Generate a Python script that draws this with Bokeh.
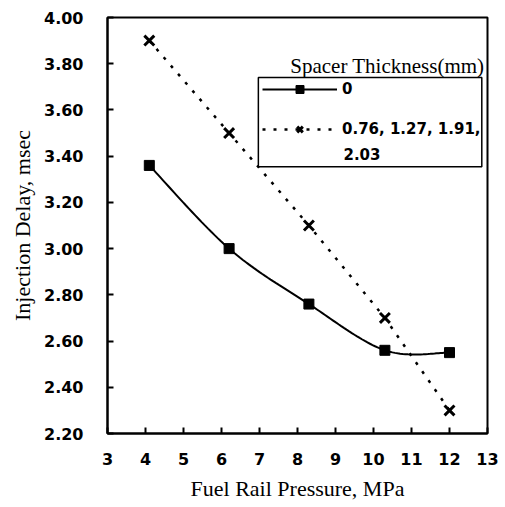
import numpy as np
from bokeh.plotting import figure
from bokeh.models import (Range1d, FixedTicker, PrintfTickFormatter, Legend,
                          LegendItem, Label)
from bokeh.embed import file_html
from bokeh.resources import INLINE

# Fuel rail pressure (MPa) and injection delay (msec)
pressure = [4.1, 6.2, 8.3, 10.3, 12.0]
delay_no_spacer = [3.36, 3.00, 2.76, 2.56, 2.55]
delay_spacer = [3.90, 3.50, 3.10, 2.70, 2.30]

x_ticks = [3, 4, 5, 6, 7, 8, 9, 10, 11, 12, 13]
y_ticks = [2.2, 2.4, 2.6, 2.8, 3.0, 3.2, 3.4, 3.6, 3.8, 4.0]

legend_title = "Spacer Thickness(mm)"
label_no_spacer = "0"
label_spacer_line1 = "0.76, 1.27, 1.91,"
label_spacer_line2 = "2.03"


def smooth_curve(xs, ys, steps=30):
    """Catmull-Rom style smoothing through the given points (spreadsheet smoothed line)."""
    pts = np.column_stack([xs, ys]).astype(float)
    ext = np.vstack([pts[0], pts, pts[-1]])
    out = []
    for i in range(len(pts) - 1):
        p0, p1, p2, p3 = ext[i], ext[i + 1], ext[i + 2], ext[i + 3]
        c1 = p1 + (p2 - p0) / 6.0
        c2 = p2 - (p3 - p1) / 6.0
        t = np.linspace(0, 1, steps)[:, None]
        seg = ((1 - t) ** 3) * p1 + 3 * ((1 - t) ** 2) * t * c1 + 3 * (1 - t) * t ** 2 * c2 + t ** 3 * p2
        out.append(seg if i == 0 else seg[1:])
    curve = np.vstack(out)
    return curve[:, 0], curve[:, 1]


p = figure(width=505, height=507, output_backend="svg", toolbar_location=None,
           x_range=Range1d(3, 13), y_range=Range1d(2.2, 4.0),
           min_border_left=107, min_border_right=18,
           min_border_top=17, min_border_bottom=74)

p.background_fill_color = "white"
p.border_fill_color = "white"
p.outline_line_color = "black"
p.outline_line_width = 2
p.xgrid.visible = False
p.ygrid.visible = False

tick_font = "DejaVu Sans"
title_font = "Liberation Serif"

for ax in (p.xaxis[0], p.yaxis[0]):
    ax.axis_line_color = "black"
    ax.axis_line_width = 2
    ax.major_tick_line_color = "black"
    ax.major_tick_line_width = 2
    ax.major_tick_in = 6
    ax.major_tick_out = 0
    ax.minor_tick_line_color = None
    ax.major_label_text_font = tick_font
    ax.major_label_text_font_style = "bold"
    ax.major_label_text_font_size = "16px"
    ax.major_label_text_color = "black"
    ax.axis_label_text_font = title_font
    ax.axis_label_text_font_style = "normal"
    ax.axis_label_text_font_size = "22px"
    ax.axis_label_text_color = "black"

p.xaxis.ticker = FixedTicker(ticks=x_ticks)
p.yaxis.ticker = FixedTicker(ticks=y_ticks)
p.yaxis.formatter = PrintfTickFormatter(format="%.2f")
p.xaxis.major_label_standoff = 19
p.yaxis.major_label_standoff = 24
p.xaxis.axis_label = "Fuel Rail Pressure, MPa"
p.yaxis.axis_label = "Injection Delay, msec"
p.xaxis.axis_label_standoff = 8
p.yaxis.axis_label_standoff = 6

# Solid smoothed series with square markers
sx, sy = smooth_curve(pressure, delay_no_spacer)
r_line0 = p.line(sx, sy, line_color="black", line_width=2)
r_mark0 = p.scatter(pressure, delay_no_spacer, marker="square", size=10,
                    fill_color="black", line_color="black")

# Dotted series with x markers
r_line1 = p.line(pressure, delay_spacer, line_color="black", line_width=2.5,
                 line_dash="3 8")
r_mark1 = p.scatter(pressure, delay_spacer, marker="x", size=14,
                    line_color="black", line_width=3)

# Legend frame (a white panel so the wrapped label fits inside it)
p.quad(left=[6.97], right=[12.85], top=[3.740], bottom=[3.354],
       fill_color="white", fill_alpha=1, line_color="black", line_width=1.5)

legend = Legend(items=[
    LegendItem(label=label_no_spacer, renderers=[r_line0, r_mark0]),
    LegendItem(label=label_spacer_line1, renderers=[r_line1, r_mark1]),
], location=(155, 294))
legend.border_line_color = None
legend.background_fill_alpha = 0
legend.label_text_font = tick_font
legend.label_text_font_style = "bold"
legend.label_text_font_size = "15px"
legend.label_text_color = "black"
legend.glyph_width = 75
legend.glyph_height = 20
legend.label_standoff = 5
legend.spacing = 20
legend.padding = 0
legend.margin = 0
p.add_layout(legend, "center")

p.add_layout(Label(x=9.21, y=3.410, text=label_spacer_line2, text_align="left",
                   text_baseline="middle", text_font=tick_font,
                   text_font_style="bold", text_font_size="15px",
                   text_color="black"))

p.add_layout(Label(x=12.92, y=3.79, text=legend_title, text_align="right",
                   text_baseline="middle", text_font=title_font,
                   text_font_size="21px", text_color="black"))

open("out.html", "w").write(file_html(p, INLINE))
